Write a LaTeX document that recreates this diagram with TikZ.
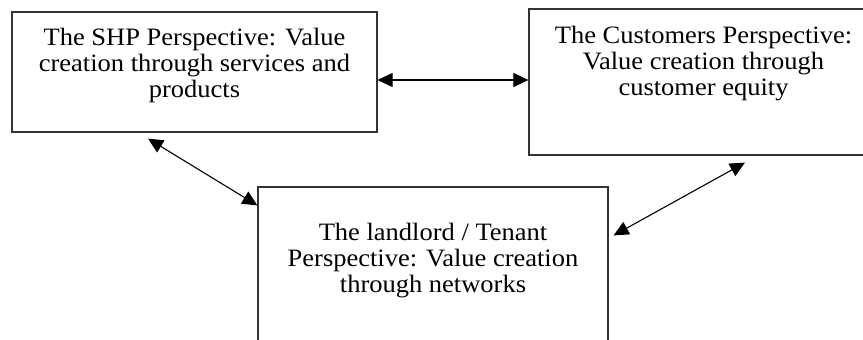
\documentclass[tikz,border=0pt]{standalone}
\usepackage{fontspec}
\setmainfont{Liberation Serif}
\newfontfamily\boxfont[FakeStretch=1.06]{Liberation Serif}
\usetikzlibrary{arrows.meta}

\begin{document}
\begin{tikzpicture}[x=1pt,y=-1pt,
		persp/.style={draw=black!80, line width=1.2pt, inner sep=0pt},
		persptext/.style={align=center, inner sep=0pt, anchor=north, font=\boxfont\fontsize{25}{26}\selectfont},
		link/.style={{Triangle[length=15pt,width=14pt]}-{Triangle[length=15pt,width=14pt]}, line width=1.1pt}]
				\clip (0,0) rectangle (863,340);
				\node [persp, minimum width=365pt, minimum height=120pt] (shp) at (194.5,72) {};
				\node [persp, minimum width=349pt, minimum height=146pt] (cust) at (703.5,82) {};
				\node [persp, minimum width=350pt, minimum height=200pt] (land) at (433,287) {};
				\node [persptext] (shptext) at (194.5,28) {The SHP Perspective: Value\\creation through services and\\products};
				\node [persptext] (custtext) at (703.5,25.8) {The Customers Perspective:\\Value creation through\\customer equity};
				\node [persptext] (landtext) at (433,222.8) {The landlord / Tenant\\Perspective: Value creation\\through networks};
				\draw [link] ([yshift=-8pt]shp.east) -- ([yshift=-8pt]shp.east -| cust.west);
				\draw [link] ([shift={(-46.5,6)}]shp.south) -- ([shift={(0,19)}]land.north west);
				\draw [link] ([shift={(41.5,7)}]cust.south) -- ([shift={(5,49)}]land.north east);
			\end{tikzpicture}
\end{document}
